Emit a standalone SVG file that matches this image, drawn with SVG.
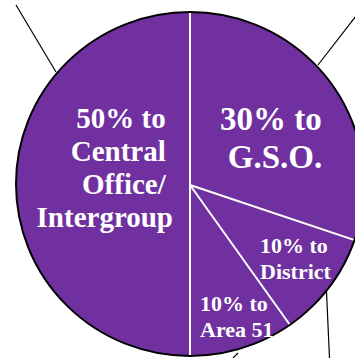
<svg xmlns="http://www.w3.org/2000/svg" width="355" height="358" viewBox="0 0 355 358">
  <style>
    .lbl { font-family: "Liberation Serif", "Times New Roman", serif; font-weight: bold; fill: #ffffff; }
    .sep { stroke: #ffffff; stroke-width: 2; fill: none; }
    .lead { stroke: #000000; stroke-width: 1.2; fill: none; }
  </style>
  <defs>
    <clipPath id="pieClip">
      <ellipse cx="190" cy="184" rx="174" ry="172"/>
    </clipPath>
  </defs>
  <rect x="0" y="0" width="355" height="358" fill="#ffffff"/>
  <g id="connectors">
    <line class="lead" x1="16" y1="5" x2="56" y2="72"/>
    <line class="lead" x1="318" y1="65" x2="356" y2="16"/>
    <line class="lead" x1="326.5" y1="292" x2="329.5" y2="358"/>
    <line class="lead" x1="238" y1="353" x2="233" y2="358"/>
  </g>
  <g id="pie">
    <ellipse cx="190" cy="184" rx="174" ry="172" fill="#7030A0"/>
    <g clip-path="url(#pieClip)">
      <line class="sep" x1="190" y1="0" x2="190" y2="358"/>
      <line class="sep" x1="190" y1="185" x2="372" y2="246"/>
      <line class="sep" x1="190" y1="185" x2="300" y2="339"/>
    </g>
    <ellipse cx="190" cy="184" rx="174" ry="172" fill="none" stroke="#000000" stroke-width="2"/>
  </g>
  <g id="slice-central-office">
    <text class="lbl" font-size="29" text-anchor="end">
      <tspan x="173" y="128">50% to</tspan>
      <tspan x="173" y="161">Central</tspan>
      <tspan x="173" y="194">Office/</tspan>
      <tspan x="173" y="227">Intergroup</tspan>
    </text>
  </g>
  <g id="slice-gso">
    <text class="lbl" font-size="33" text-anchor="middle">
      <tspan x="275" y="130">30% to</tspan>
      <tspan x="275" y="168">G.S.O.</tspan>
    </text>
  </g>
  <g id="slice-district">
    <text class="lbl" font-size="22">
      <tspan x="260" y="253">10% to</tspan>
      <tspan x="260" y="279">District</tspan>
    </text>
  </g>
  <g id="slice-area">
    <text class="lbl" font-size="22">
      <tspan x="200" y="311">10% to</tspan>
      <tspan x="200" y="337">Area 51</tspan>
    </text>
  </g>
</svg>
